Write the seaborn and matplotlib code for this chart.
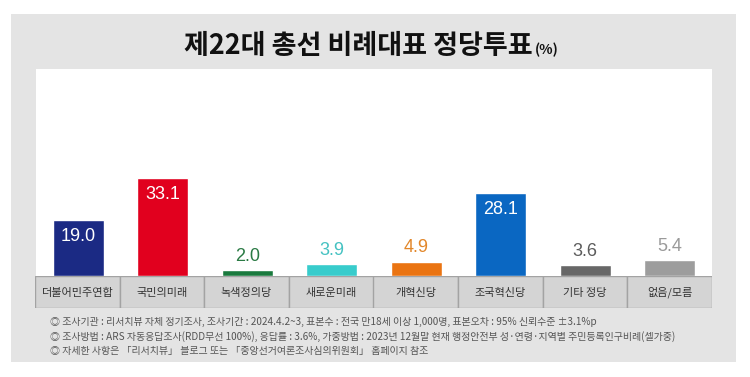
import matplotlib
matplotlib.use("Agg")
import matplotlib.pyplot as plt
import seaborn as sns
import pandas as pd
from matplotlib.patches import Rectangle

# data
parties = ["더불어민주연합", "국민의미래", "녹색정의당", "새로운미래",
           "개혁신당", "조국혁신당", "기타 정당", "없음/모름"]
shares = [19.0, 33.1, 2.0, 3.9, 4.9, 28.1, 3.6, 5.4]
bar_colors = ["#1b2a84", "#e1001e", "#1a7a3e", "#38cccc",
              "#ea7412", "#0a67c2", "#676767", "#9d9d9d"]
label_colors = ["white", "white", "#2a7a44", "#45c2c2",
                "#e2872a", "white", "#5c5c5c", "#9a9a9a"]
notes = [
    "◎ 조사기관 : 리서치뷰 자체 정기조사, 조사기간 : 2024.4.2~3, 표본수 : 전국 만18세 이상 1,000명, 표본오차 : 95% 신뢰수준 ±3.1%p",
    "◎ 조사방법 : ARS 자동응답조사(RDD무선 100%), 응답률 : 3.6%, 가중방법 : 2023년 12월말 현재 행정안전부 성·연령·지역별 주민등록인구비례(셀가중)",
    "◎ 자세한 사항은 「리서치뷰」 블로그 또는 「중앙선거여론조사심의위원회」 홈페이지 참조",
]

df = pd.DataFrame({"party": parties, "share": shares})

sns.set_theme(style="white")
plt.rcParams["font.family"] = ["Noto Sans CJK KR", "DejaVu Sans"]

W, H = 750, 377
fig = plt.figure(figsize=(7.5, 3.77), dpi=100, facecolor="white")

# background axes holding the outer gray panel
bg = fig.add_axes([0, 0, 1, 1], zorder=-1)
bg.set_xlim(0, W)
bg.set_ylim(H, 0)
bg.axis("off")
bg.add_patch(Rectangle((11, 14), 725, 348, facecolor="#e4e4e4", edgecolor="none"))

# title
bg.text(533, 46, "제22대 총선 비례대표 정당투표", ha="right", va="center",
        fontsize=19.5, fontweight="black", color="#111111")
bg.text(535, 50, "(%)", ha="left", va="center",
        fontsize=10, fontweight="black", color="#111111")

# footnotes
for k, line in enumerate(notes):
    bg.text(50, 322 + k * 14.5, line, ha="left", va="center",
            fontsize=7.2, color="#555555")

# main bar axes
ax = fig.add_axes([36 / W, 1 - 276 / H, 676 / W, 207 / H])
ax.set_facecolor("white")
sns.barplot(data=df, x="party", y="share", hue="party", palette=bar_colors,
            width=0.6, saturation=1, legend=False, ax=ax)
ax.set_xlim(-0.5, len(parties) - 0.5)
ax.set_ylim(0, 70)
ax.set_xlabel("")
ax.set_ylabel("")
ax.set_xticks([])
ax.set_yticks([])
for s in ax.spines.values():
    s.set_visible(False)

for i, (v, c) in enumerate(zip(shares, label_colors)):
    inside = v > 15
    ax.annotate(f"{v:.1f}", (i, v), xytext=(0, -12 if inside else 10),
                textcoords="offset points", ha="center", va="center",
                fontsize=13, color=c, family="Liberation Sans")

# category label row
axc = fig.add_axes([35 / W, 1 - 308 / H, 677 / W, 32 / H])
axc.set_xlim(-0.5, len(parties) - 0.5)
axc.set_ylim(0, 1)
axc.axis("off")
for i, p in enumerate(parties):
    axc.add_patch(Rectangle((i - 0.5, 0), 1, 1, facecolor="#d4d4d4",
                            edgecolor="#a3a3a3", linewidth=1))
    axc.text(i, 0.48, p, ha="center", va="center", fontsize=8, color="#333333")

fig.savefig("out.png", dpi=100, facecolor="white")
